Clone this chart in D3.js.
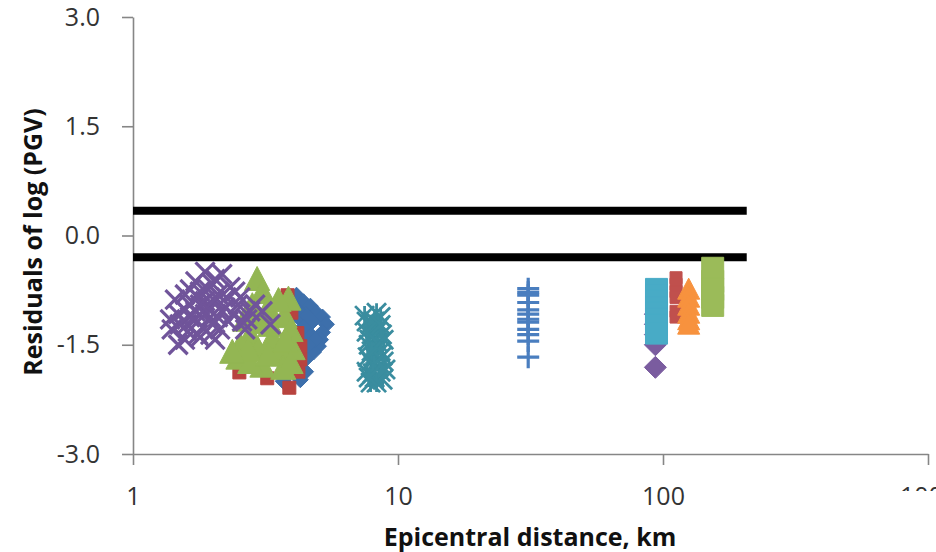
<!DOCTYPE html>
<html>
<head>
<meta charset="utf-8">
<script src="https://cdn.jsdelivr.net/npm/d3@7"></script>
<style>
    body { margin: 0; background: #fff; }
    svg { display: block; font-family: "Open Sans", sans-serif; }
</style>
</head>
<body>
<svg id="chart" width="936" height="552"></svg>
<script>
// axis ticks
var xTicks = [1, 10, 100, 1000];
var yTicks = [-3, -1.5, 0, 1.5, 3];

// the two bounding lines (residual values, end distance)
var bandLines = [0.34, -0.30];
var bandStart = 1, bandEnd = 207;

// [epicentral distance km, residual]
var blueDiamonds = [[4.14, -0.82], [4.40, -0.91], [4.67, -0.97], [4.92, -1.06], [5.19, -1.12],
    [5.37, -1.22], [5.19, -1.33], [5.10, -1.43], [5.01, -1.52], [4.80, -1.60], [4.48, -1.70],
    [4.21, -1.73], [3.93, -1.87], [3.69, -2.00], [4.28, -1.15], [4.48, -1.36], [4.10, -1.50],
    [4.28, -1.98], [4.48, -1.08], [4.76, -1.18], [4.67, -1.36], [4.88, -1.43], [4.59, -1.50],
    [4.28, -1.56], [4.40, -1.26], [4.17, -1.02], [4.00, -1.29], [3.93, -1.63], [4.10, -1.84],
    [4.48, -1.87]];
var redSquares = [[2.52, -1.88], [3.21, -1.96], [3.89, -2.09], [4.21, -1.87], [4.28, -1.70],
    [4.28, -1.52], [4.17, -1.34], [3.83, -0.82], [3.96, -1.06]];
var greenTriangles = [[2.94, -0.59], [3.86, -0.86], [3.08, -0.77], [2.82, -0.95], [3.24, -0.99],
    [2.65, -1.15], [3.08, -1.18], [3.73, -1.10], [3.93, -1.29], [2.77, -1.36], [3.36, -1.40],
    [2.54, -1.50], [2.97, -1.56], [3.54, -1.59], [4.00, -1.54], [2.50, -1.67], [3.08, -1.78],
    [3.69, -1.81], [2.77, -1.73], [3.30, -1.22], [2.89, -1.12], [3.54, -0.88], [2.72, -1.56],
    [3.24, -1.63], [3.76, -1.43], [2.37, -1.59], [3.93, -1.73]];
var purpleCrosses = [[1.87, -0.50], [2.17, -0.53], [1.72, -0.63], [2.00, -0.67], [2.33, -0.71],
    [1.57, -0.81], [1.79, -0.77], [2.09, -0.81], [2.54, -0.85], [2.89, -0.95], [1.64, -0.95],
    [1.87, -0.90], [2.23, -0.99], [1.48, -1.08], [1.72, -1.04], [1.96, -1.12], [2.38, -1.08],
    [2.70, -1.15], [3.30, -1.22], [1.40, -1.29], [1.60, -1.22], [1.83, -1.26], [2.13, -1.29],
    [1.57, -1.43], [1.79, -1.40], [1.48, -1.50], [2.04, -1.43], [3.08, -1.04], [2.65, -1.29],
    [1.44, -0.88], [1.64, -0.74], [1.76, -0.85], [1.92, -0.74], [2.04, -0.90], [2.17, -1.04],
    [1.72, -1.15], [1.87, -1.08], [1.57, -1.02], [2.00, -1.22], [2.29, -1.18], [2.49, -0.95],
    [1.76, -1.36], [1.64, -1.12], [1.90, -0.99], [2.25, -0.85], [1.50, -1.22], [2.43, -0.77],
    [2.04, -0.60], [1.79, -0.95], [2.09, -1.12], [1.61, -1.32], [2.77, -1.04], [2.58, -1.18],
    [1.96, -1.36], [1.38, -1.15]];
var tealStars = [[7.48, -1.10], [8.30, -1.06], [8.60, -1.12], [7.61, -1.18], [8.45, -1.26],
    [8.02, -1.36], [8.83, -1.43], [7.75, -1.50], [8.30, -1.56], [8.75, -1.65], [7.88, -1.73],
    [8.45, -1.81], [7.61, -1.87], [8.16, -1.95], [8.75, -1.98], [7.88, -2.02], [8.40, -1.47],
    [8.16, -1.67], [7.88, -1.22], [8.30, -1.32], [8.70, -1.36], [7.80, -1.43], [8.24, -1.52],
    [8.60, -1.59], [7.95, -1.59], [7.68, -1.67], [8.83, -1.73], [8.09, -1.78], [8.60, -1.87],
    [8.02, -1.89], [8.97, -1.84], [8.30, -2.02], [7.75, -1.95], [8.16, -1.18], [8.60, -1.23],
    [7.61, -1.32]];
var bluePluses = [[31, -0.73], [31, -0.78], [31, -0.82], [31, -0.92], [31, -1.02], [31, -1.08],
    [31, -1.15], [31, -1.19], [31, -1.29], [31, -1.36], [31, -1.45], [31, -1.67]];
var purpleDiamonds = [[93.6, -1.08], [93.6, -1.22], [93.6, -1.36], [93.6, -1.50], [93.6, -1.81]];
var cyanSquares = [[94.5, -0.74], [94.5, -0.82], [94.5, -0.90], [94.5, -0.99], [94.5, -1.07],
    [94.5, -1.15], [94.5, -1.23], [94.5, -1.34]];
var redSquares2 = [[112, -0.58], [112, -0.67], [112, -0.77], [112, -0.85], [112, -1.04], [112, -1.12]];
var orangeTriangles = [[125, -0.73], [125, -0.84], [125, -0.95], [125, -1.06], [125, -1.15], [125, -1.21]];
var greenSquares = [[154, -0.45], [154, -0.63], [154, -0.74], [154, -0.85], [154, -0.96]];

// marker shapes, size = full width in px
var shapes = {
    diamond: {draw: function (c, s) { var r = s / 2; c.moveTo(0, -r); c.lineTo(r, 0); c.lineTo(0, r); c.lineTo(-r, 0); c.closePath(); }},
    square: {draw: function (c, s) { var r = s / 2; c.rect(-r, -r, s, s); }},
    triangle: {draw: function (c, s) { var r = s / 2; c.moveTo(0, -r); c.lineTo(r * 1.05, r); c.lineTo(-r * 1.05, r); c.closePath(); }},
    cross: {draw: function (c, s) { var r = s / 2; c.moveTo(-r, -r); c.lineTo(r, r); c.moveTo(r, -r); c.lineTo(-r, r); }},
    star: {draw: function (c, s) { var r = s / 2; c.moveTo(-r, -r); c.lineTo(r, r); c.moveTo(r, -r); c.lineTo(-r, r); c.moveTo(0, -r); c.lineTo(0, r); }},
    plus: {draw: function (c, s) { var r = s / 2; c.moveTo(-r, 0); c.lineTo(r, 0); c.moveTo(0, -r); c.lineTo(0, r); }}
};

// draw order = Excel series order
var series = [
    {data: blueDiamonds, shape: 'diamond', color: '#3d6fab', size: 16},
    {data: redSquares, shape: 'square', color: '#b8433f', size: 13},
    {data: greenTriangles, shape: 'triangle', color: '#93b653', size: 24},
    {data: purpleCrosses, shape: 'cross', color: '#70549a', size: 19, line: 3.2},
    {data: tealStars, shape: 'star', color: '#3a8d9f', size: 19, line: 2.8},
    {data: bluePluses, shape: 'plus', color: '#4a7ebf', size: 22, line: 3.2},
    {data: purpleDiamonds, shape: 'diamond', color: '#7a5c9f', size: 22},
    {data: cyanSquares, shape: 'square', color: '#48abc6', size: 22},
    {data: redSquares2, shape: 'square', color: '#c0504d', size: 12},
    {data: orangeTriangles, shape: 'triangle', color: '#f7923e', size: 21},
    {data: greenSquares, shape: 'square', color: '#9bbb59', size: 22}
];

var svg = d3.select('#chart');
var axisColor = '#868686';

var xScale = d3.scaleLog().domain([1, 1000]).range([133, 928]);
var yScale = d3.scaleLinear().domain([-3, 3]).range([454, 17]);

// Excel style "-1.5" with a plain hyphen
var fmtY = function (d) { return d3.format('.1f')(d).replace('\u2212', '-'); };

// y axis
var yAxis = svg.append('g')
    .attr('transform', 'translate(133,0)')
    .call(d3.axisLeft(yScale).tickValues(yTicks).tickFormat(fmtY)
        .tickSize(11).tickSizeOuter(0).tickPadding(22));

// x axis
var xAxis = svg.append('g')
    .attr('transform', 'translate(0,454)')
    .call(d3.axisBottom(xScale).tickValues(xTicks).tickFormat(d3.format('d'))
        .tickSize(11).tickSizeOuter(0).tickPadding(22));

svg.selectAll('.domain, .tick line')
    .attr('stroke', axisColor)
    .attr('stroke-width', 1.6);
svg.selectAll('.tick text')
    .attr('fill', '#333')
    .style('font-size', '25px')
    .style('font-family', '"Open Sans", sans-serif');

// the 1000 label is cut off in the original (only its top shows)
svg.append('clipPath').attr('id', 'cutLabel')
    .append('rect').attr('x', -200).attr('y', -100).attr('width', 400).attr('height', 137);
xAxis.selectAll('.tick')
    .filter(function (d) { return d === 1000; })
    .select('text')
    .attr('clip-path', 'url(#cutLabel)');

// bounding lines
svg.append('g').selectAll('line')
    .data(bandLines)
    .enter().append('line')
    .attr('x1', xScale(bandStart))
    .attr('x2', xScale(bandEnd))
    .attr('y1', function (d) { return yScale(d); })
    .attr('y2', function (d) { return yScale(d); })
    .attr('stroke', '#000')
    .attr('stroke-width', 8);

// markers
series.forEach(function (s) {
    var stroked = s.line !== undefined;
    var sym = d3.symbol().type(shapes[s.shape]).size(s.size);
    svg.append('g').selectAll('path')
        .data(s.data)
        .enter().append('path')
        .attr('transform', function (d) { return 'translate(' + xScale(d[0]) + ',' + yScale(d[1]) + ')'; })
        .attr('d', sym)
        .attr('fill', stroked ? 'none' : s.color)
        .attr('stroke', s.color)
        .attr('stroke-width', stroked ? s.line : 1);
});

// axis titles
svg.append('text')
    .attr('x', 530)
    .attr('y', 546)
    .attr('text-anchor', 'middle')
    .style('font-size', '25px')
    .style('font-weight', 'bold')
    .attr('fill', '#111')
    .text('Epicentral distance, km');

svg.append('text')
    .attr('transform', 'translate(42,242) rotate(-90)')
    .attr('text-anchor', 'middle')
    .style('font-size', '25px')
    .style('font-weight', 'bold')
    .attr('fill', '#111')
    .text('Residuals of log (PGV)');
</script>
</body>
</html>
